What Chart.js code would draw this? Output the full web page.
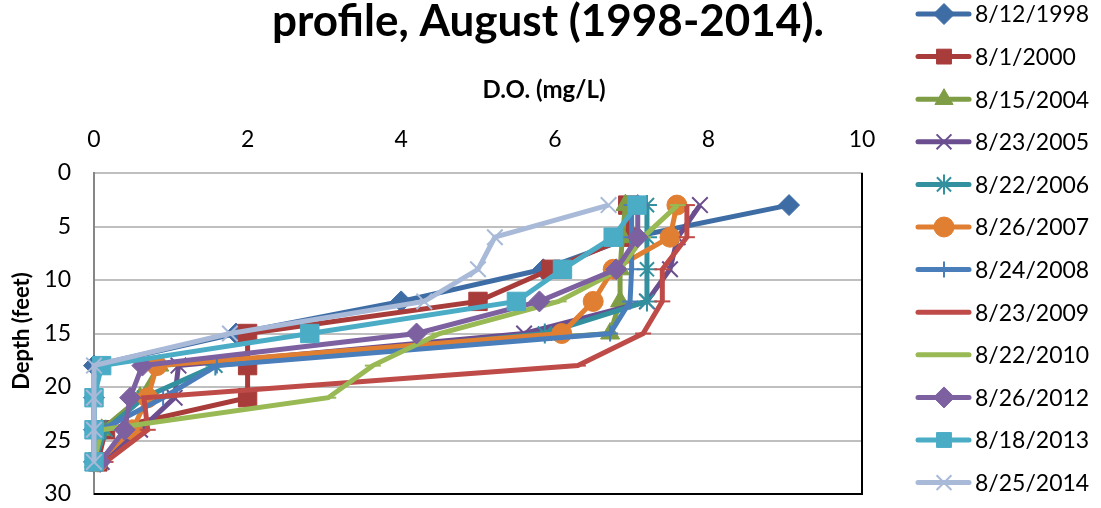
<!DOCTYPE html>
<html>
<head>
<meta charset="utf-8">
<script src="https://cdn.jsdelivr.net/npm/chart.js"></script>
<style>
  html, body { margin: 0; padding: 0; background: #fff; }
  #wrap { width: 1101px; height: 508px; }
</style>
</head>
<body>
<div id="wrap"><canvas id="doChart" width="1101" height="508"></canvas></div>
<script>
// depth of each sample (feet)
const depths = [3, 6, 9, 12, 15, 18, 21, 24, 27];

const seriesNames = [
  "8/12/1998", "8/1/2000", "8/15/2004", "8/23/2005", "8/22/2006", "8/26/2007",
  "8/24/2008", "8/23/2009", "8/22/2010", "8/26/2012", "8/18/2013", "8/25/2014"
];

// dissolved oxygen (mg/L) at each depth
const do1998 = [9.05, 7.0, 5.85, 4.0, 1.85, 0, 0, 0, 0];
const do2000 = [6.95, 6.95, 5.95, 5.0, 2.0, 2.0, 2.0, 0.15, 0.05];
const do2004 = [6.92, 6.88, 6.85, 6.85, 6.72, 0.85, 0.6, 0.1, 0];
const do2005 = [7.89, 7.6, 7.5, 7.2, 5.6, 1.1, 1.05, 0.6, 0.1];
const do2006 = [7.2, 7.2, 7.2, 7.2, 5.87, 1.58, 0.65, 0.15, 0];
const do2007 = [7.59, 7.5, 6.76, 6.5, 6.09, 0.82, 0.7, 0.5, 0.05];
const do2008 = [7.0, 7.0, 7.0, 6.98, 6.72, 1.6, 0.9, 0.1, 0];
const do2009 = [7.72, 7.72, 7.4, 7.4, 7.15, 6.3, 0.65, 0.7, 0.15];
const do2010 = [7.6, 7.15, 6.85, 6.05, 4.5, 3.63, 3.05, 0.1, 0];
const do2012 = [7.08, 7.08, 6.8, 5.8, 4.2, 0.63, 0.47, 0.4, 0.08];
const do2013 = [7.07, 6.76, 6.1, 5.5, 2.81, 0.1, 0, 0, 0];
const do2014 = [6.7, 5.22, 5.0, 4.3, 1.77, 0, 0, 0, 0];

const seriesValues = [do1998, do2000, do2004, do2005, do2006, do2007,
  do2008, do2009, do2010, do2012, do2013, do2014];

const xTicks = [0, 2, 4, 6, 8, 10];
const yTicks = [0, 5, 10, 15, 20, 25, 30];

const colors = ["#3E6DA5", "#A83C3A", "#7F9D45", "#6A4E8F", "#33909E", "#E07E32",
  "#4A7EBB", "#BE4B48", "#98B954", "#7D60A0", "#4BACC6", "#A8BAD8"];
const markers = ["rectRot", "rect", "triangle", "crossRot", "star", "circle",
  "cross", "line", "line", "rectRot", "rect", "crossRot"];
const markerSize = [10.5, 13, 11, 11, 10, 10, 8, 8, 8, 10.5, 13, 11];

const FONT = "Lato, 'Open Sans', sans-serif";

const datasets = seriesNames.map((name, i) => {
  const hollow = ["crossRot", "star", "cross", "line"].includes(markers[i]);
  return {
    label: name,
    data: seriesValues[i].map((v, k) => ({ x: v, y: depths[k] })),
    borderColor: colors[i],
    backgroundColor: colors[i],
    borderWidth: 5,
    showLine: true,
    clip: false,
    pointStyle: markers[i],
    pointRadius: markerSize[i],
    pointBorderWidth: hollow ? 2 : 1,
    pointBackgroundColor: colors[i],
    pointBorderColor: colors[i],
    order: seriesNames.length - i,
  };
});

const extraDrawing = {
  id: "extraDrawing",
  beforeDatasetsDraw(chart) {
    const ctx = chart.ctx;
    const area = chart.chartArea;
    // plot border: dark right and bottom edges
    ctx.save();
    ctx.strokeStyle = "#000";
    ctx.lineWidth = 2;
    ctx.beginPath();
    ctx.moveTo(area.left, area.bottom);
    ctx.lineTo(area.right, area.bottom);
    ctx.lineTo(area.right, area.top);
    ctx.stroke();
    ctx.restore();
  },
  afterDraw(chart) {
    const ctx = chart.ctx;
    ctx.save();

    // title (first line runs off the top)
    ctx.fillStyle = "#000";
    ctx.textAlign = "center";
    ctx.textBaseline = "alphabetic";
    ctx.font = "bold 44px " + FONT;
    ctx.fillText("profile, August (1998-2014).", 548, 36);

    // axis titles
    ctx.font = "bold 24px " + FONT;
    ctx.textBaseline = "middle";
    ctx.fillText("D.O. (mg/L)", 544, 90);
    ctx.font = "bold 22px " + FONT;
    ctx.translate(22, 331);
    ctx.rotate(-Math.PI / 2);
    ctx.fillText("Depth (feet)", 0, 0);
    ctx.setTransform(1, 0, 0, 1, 0, 0);

    // legend
    chart.data.datasets.forEach((ds, i) => {
      const y = 14 + i * 42.6;
      ctx.strokeStyle = ds.borderColor;
      ctx.lineWidth = 5;
      ctx.lineCap = "round";
      ctx.beginPath();
      ctx.moveTo(918, y);
      ctx.lineTo(969, y);
      ctx.stroke();
      ctx.lineCap = "butt";
      ctx.fillStyle = ds.pointBackgroundColor;
      ctx.strokeStyle = ds.pointBorderColor;
      ctx.lineWidth = ds.pointBorderWidth;
      Chart.helpers.drawPoint(ctx, {
        pointStyle: ds.pointStyle,
        radius: Math.min(ds.pointRadius, 10.5),
        rotation: 0,
        borderWidth: ds.pointBorderWidth,
      }, 944, y);
      ctx.fillStyle = "#000";
      ctx.font = "23px " + FONT;
      ctx.textAlign = "left";
      ctx.textBaseline = "middle";
      ctx.fillText(ds.label, 975, y + 1);
    });
    ctx.restore();
  },
};

new Chart(document.getElementById("doChart"), {
  type: "scatter",
  data: { datasets },
  options: {
    responsive: false,
    animation: false,
    layout: { padding: { right: 239, bottom: 13, top: 0, left: 0 } },
    plugins: {
      legend: { display: false },
      title: { display: false },
      tooltip: { enabled: false },
    },
    scales: {
      x: {
        type: "linear",
        position: "top",
        min: 0,
        max: 10,
        afterFit: (scale) => {
          scale.height = 173;
          scale.paddingLeft = 0;
          scale.paddingRight = 0;
        },
        afterBuildTicks: (scale) => { scale.ticks = xTicks.map((v) => ({ value: v })); },
        grid: { display: false, drawTicks: false },
        border: { display: true, color: "#BFBFBF", width: 2 },
        ticks: { padding: 20, color: "#000", font: { family: FONT, size: 23 } },
      },
      y: {
        type: "linear",
        reverse: true,
        min: 0,
        max: 30,
        afterFit: (scale) => {
          scale.width = 94;
          scale.paddingTop = 0;
          scale.paddingBottom = 0;
        },
        afterBuildTicks: (scale) => { scale.ticks = yTicks.map((v) => ({ value: v })); },
        grid: { color: "#BFBFBF", lineWidth: 2, drawTicks: false },
        border: { display: true, color: "#868686", width: 2 },
        ticks: { padding: 23, color: "#000", font: { family: FONT, size: 23 } },
      },
    },
  },
  plugins: [extraDrawing],
});
</script>
</body>
</html>
